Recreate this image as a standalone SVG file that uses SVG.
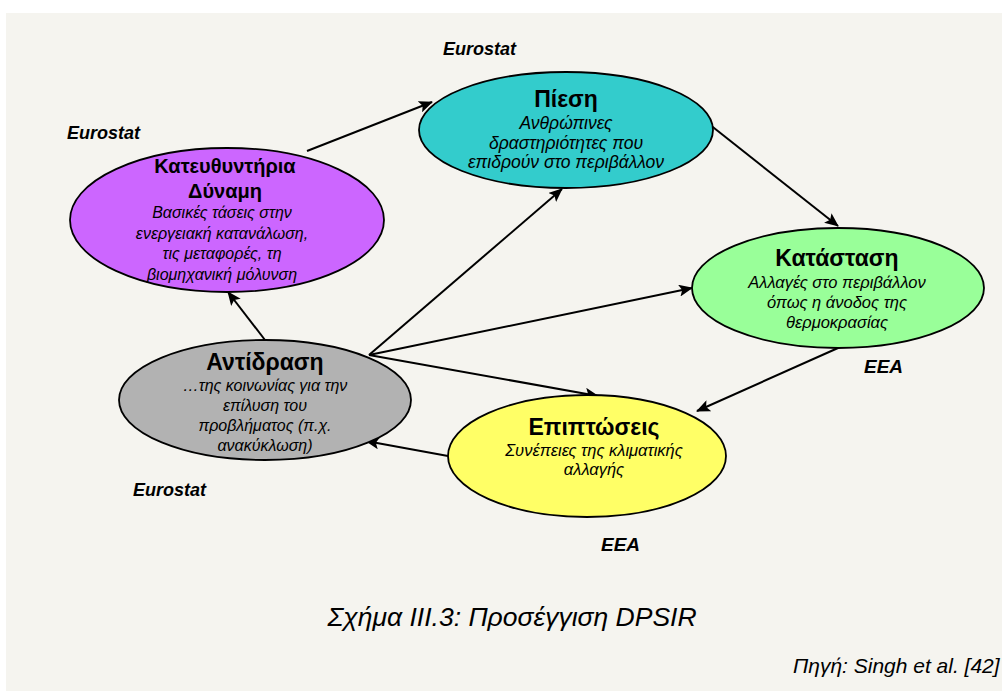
<svg xmlns="http://www.w3.org/2000/svg" width="1002" height="692" viewBox="0 0 1002 692">
  <defs>
    <marker id="arrow" markerUnits="userSpaceOnUse" markerWidth="14" markerHeight="12" refX="13" refY="6" orient="auto">
      <path d="M0,0 L14,6 L0,12 L3,6 Z" fill="#000"/>
    </marker>
    <style>
      .node { stroke: #000; stroke-width: 1.8; }
      .title { font-family: "Liberation Sans", Arial, sans-serif; font-weight: bold; font-size: 23px; text-anchor: middle; fill: #000; }
      .sub { font-family: "Liberation Sans", Arial, sans-serif; font-style: italic; font-size: 16.5px; text-anchor: middle; fill: #000; }
      .src { font-family: "Liberation Sans", Arial, sans-serif; font-style: italic; font-weight: bold; font-size: 18px; fill: #000; }
      .cap { font-family: "Liberation Sans", Arial, sans-serif; font-style: italic; fill: #000; }
      .conn line { stroke: #000; stroke-width: 2; marker-end: url(#arrow); }
    </style>
  </defs>

  <!-- page background -->
  <rect x="0" y="0" width="1002" height="692" fill="#ffffff"/>
  <rect x="6" y="13" width="996" height="678" fill="#f5f4ef"/>

  <!-- connectors -->
  <g id="connectors" class="conn">
    <line x1="307" y1="151" x2="432" y2="102"/>
    <line x1="709" y1="124" x2="838" y2="226"/>
    <line x1="838" y1="348" x2="697" y2="411"/>
    <line x1="448" y1="456" x2="366" y2="441"/>
    <line x1="265" y1="340" x2="228" y2="292"/>
    <line x1="369" y1="355" x2="562" y2="189"/>
    <line x1="369" y1="355" x2="692" y2="288"/>
    <line x1="369" y1="355" x2="598" y2="396"/>
  </g>

  <!-- Driving force -->
  <g id="driving">
    <ellipse class="node" cx="227" cy="220" rx="157" ry="72" fill="#cc66ff"/>
    <text class="title" style="font-size:20px" x="225" y="173">Κατευθυντήρια</text>
    <text class="title" style="font-size:20px" x="225" y="198">Δύναμη</text>
    <g class="sub" style="font-size:16px">
      <text x="222" y="218">Βασικές τάσεις στην</text>
      <text x="222" y="239">ενεργειακή κατανάλωση,</text>
      <text x="222" y="259">τις μεταφορές, τη</text>
      <text x="222" y="280">βιομηχανική μόλυνση</text>
    </g>
  </g>

  <!-- Pressure -->
  <g id="pressure">
    <ellipse class="node" cx="566" cy="130" rx="147" ry="58" fill="#33cccc"/>
    <text class="title" x="566" y="107">Πίεση</text>
    <g class="sub" style="font-size:17.5px">
      <text x="566" y="129">Ανθρώπινες</text>
      <text x="566" y="149">δραστηριότητες που</text>
      <text x="566" y="168">επιδρούν στο περιβάλλον</text>
    </g>
  </g>

  <!-- State -->
  <g id="state">
    <ellipse class="node" cx="838" cy="288" rx="146" ry="60" fill="#99ff99"/>
    <text class="title" x="837" y="266">Κατάσταση</text>
    <text class="sub" x="837" y="288">Αλλαγές στο περιβάλλον</text>
    <text class="sub" x="837" y="308">όπως η άνοδος της</text>
    <text class="sub" x="837" y="328">θερμοκρασίας</text>
  </g>

  <!-- Response -->
  <g id="response">
    <ellipse class="node" cx="265" cy="400" rx="146" ry="60" fill="#b2b2b2"/>
    <text class="title" x="265" y="370">Αντίδραση</text>
    <g class="sub" style="font-size:16px">
      <text x="265" y="391">…της κοινωνίας για την</text>
      <text x="265" y="411">επίλυση του</text>
      <text x="265" y="431">προβλήματος (π.χ.</text>
      <text x="265" y="451">ανακύκλωση)</text>
    </g>
  </g>

  <!-- Impacts -->
  <g id="impacts">
    <ellipse class="node" cx="587" cy="456" rx="139" ry="61" fill="#ffff66"/>
    <text class="title" x="594" y="435">Επιπτώσεις</text>
    <text class="sub" x="594" y="456">Συνέπειες της κλιματικής</text>
    <text class="sub" x="594" y="475">αλλαγής</text>
  </g>

  <!-- data source labels -->
  <text class="src" x="443" y="55">Eurostat</text>
  <text class="src" x="67" y="139">Eurostat</text>
  <text class="src" x="133" y="496">Eurostat</text>
  <text class="src" x="864" y="373" style="font-size:19px">EEA</text>
  <text class="src" x="601" y="551" style="font-size:19px">EEA</text>

  <!-- caption -->
  <text class="cap" x="512" y="626" font-size="26.5" text-anchor="middle">Σχήμα ΙΙΙ.3: Προσέγγιση DPSIR</text>
  <text class="cap" x="793" y="673" font-size="21">Πηγή: Singh et al. [42]</text>
</svg>
